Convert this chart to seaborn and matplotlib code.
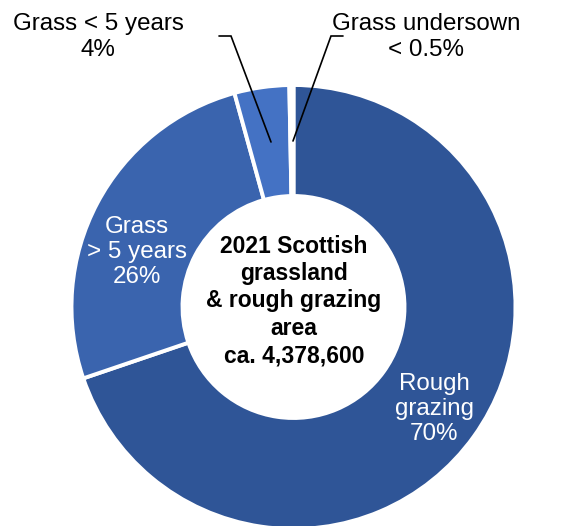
import matplotlib
matplotlib.use("Agg")
import matplotlib.pyplot as plt
import seaborn as sns

# Land-use shares of Scottish grassland and rough grazing, 2021 (%)
categories = ["Rough grazing", "Grass > 5 years", "Grass < 5 years", "Grass undersown"]
shares = [70, 26, 4, 0.3]
share_labels = ["70%", "26%", "4%", "< 0.5%"]
colors = ["#2F5597", "#3A64AE", "#4472C4", "#FFFFFF"]
centre_title = "2021 Scottish\ngrassland\n& rough grazing\narea\nca. 4,378,600"

sns.set_theme(style="white")
plt.rcParams["font.family"] = ["Liberation Sans", "DejaVu Sans"]

W, H = 573, 526
fig = plt.figure(figsize=(W / 100, H / 100), dpi=100)
ax = fig.add_axes([0, 0, 1, 1])

cx, cy = 293.5, H - 307
outer_r = 222
ring_w = 111

ax.pie(
    shares,
    colors=colors,
    startangle=90,
    counterclock=False,
    center=(cx, cy),
    radius=outer_r,
    frame=True,
    wedgeprops=dict(width=ring_w, edgecolor="white", linewidth=2.8),
)
ax.set_xlim(0, W)
ax.set_ylim(0, H)
ax.set_aspect("auto")
ax.axis("off")

fs = 17.4
# Labels inside the ring
ax.text(434, H - 409, f"Rough\ngrazing\n{share_labels[0]}", color="white",
        fontsize=fs, ha="center", va="center", linespacing=1.2)
ax.text(137, H - 252, f"Grass\n> 5 years\n{share_labels[1]}", color="white",
        fontsize=fs, ha="center", va="center", linespacing=1.2)

# Outside labels with leader lines
ax.text(98, H - 37, f"{categories[2]}\n{share_labels[2]}", color="black",
        fontsize=fs, ha="center", va="center", linespacing=1.2)
ax.text(426, H - 37, f"{categories[3]}\n{share_labels[3]}", color="black",
        fontsize=fs, ha="center", va="center", linespacing=1.2)
ax.plot([219, 231, 271], [H - 36, H - 36, H - 142], color="black", lw=1.2,
        solid_joinstyle="miter")
ax.plot([343, 331, 293], [H - 36, H - 36, H - 141], color="black", lw=1.2,
        solid_joinstyle="miter")

# Centre caption
ax.text(294, H - 301, centre_title, color="black", fontsize=16.5,
        fontweight="bold", ha="center", va="center", linespacing=1.24)

fig.savefig("out.png", dpi=100)
